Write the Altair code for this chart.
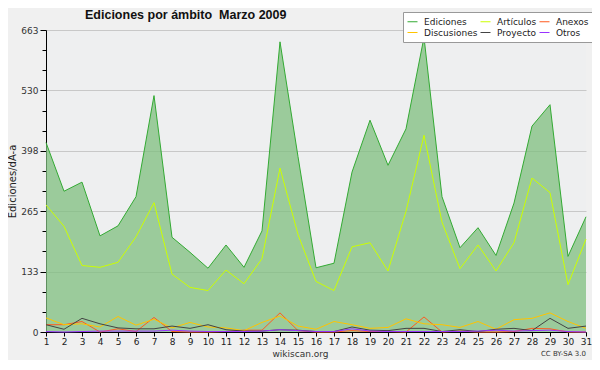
import altair as alt
import pandas as pd

# ---- data ----
days = list(range(1, 32))
ediciones = [416, 309, 329, 211, 233, 297, 519, 208, 175, 140, 191, 142, 222, 637, 385, 141,
             151, 351, 465, 366, 446, 647, 297, 185, 229, 168, 283, 452, 499, 166, 253]
articulos = [279, 232, 146, 142, 153, 209, 284, 127, 98, 91, 136, 106, 161, 360, 214, 111,
             91, 187, 196, 134, 265, 432, 241, 139, 191, 134, 196, 338, 306, 104, 204]
anexos = [16, 16, 23, 0, 7, 1, 32, 1, 0, 0, 1, 4, 4, 42, 3, 0,
          0, 3, 1, 1, 0, 33, 0, 2, 0, 0, 1, 8, 7, 0, 0]
discusiones = [31, 16, 18, 11, 34, 15, 28, 9, 21, 11, 9, 3, 21, 35, 13, 6,
               23, 16, 8, 10, 29, 18, 16, 10, 23, 6, 27, 30, 42, 23, 8]
proyecto = [16, 6, 30, 18, 9, 7, 7, 13, 8, 16, 5, 2, 2, 5, 4, 1,
            1, 11, 4, 3, 8, 8, 1, 5, 1, 6, 8, 3, 30, 8, 13]
otros = [1, 0, 1, 2, 2, 2, 2, 4, 2, 1, 1, 1, 2, 5, 3, 1,
         1, 7, 2, 1, 1, 1, 1, 1, 2, 4, 2, 3, 4, 1, 0]

series_names = ["Ediciones", "Artículos", "Anexos", "Discusiones", "Proyecto", "Otros"]
series_colors = ["#33aa33", "#ccff00", "#ff5a1f", "#ffc400", "#444444", "#9933ff"]
series_values = [ediciones, articulos, anexos, discusiones, proyecto, otros]
# legend fills column by column: order so that rows read as in the reference
legend_order = ["Ediciones", "Discusiones", "Artículos", "Proyecto", "Anexos", "Otros"]

title_text = "Ediciones por ámbito\u00a0 Marzo 2009"
y_title = "Ediciones/dÃ-a"
x_title = "wikiscan.org"
license_text = ["CC BY-SA 3.0"]
y_max = 663
y_major = [0, 132.6, 265.2, 397.8, 530.4, 663]
y_minor = [y_max * k / 15 for k in range(16) if k % 3 != 0]

# ---- tables ----
df_ed = pd.DataFrame({"dia": days, "valor": ediciones})
rows = []
for name, vals in zip(series_names, series_values):
    for d, v in zip(days, vals):
        rows.append({"dia": d, "valor": v, "serie": name})
df_long = pd.DataFrame(rows)
df_lic = pd.DataFrame({"t": license_text})

color_of = dict(zip(series_names, series_colors))

W, H = 540, 302

xscale = alt.Scale(domain=[1, 31], nice=False, zero=False)
yscale = alt.Scale(domain=[0, y_max], nice=False, zero=True)

xaxis = alt.Axis(values=days, format="d", labelFontSize=9, labelColor="#222",
                 labelFont="DejaVu Sans", tickSize=4, tickColor="#000",
                 domainColor="#000", grid=False, labelOverlap=False, labelFlush=False,
                 labelPadding=1,
                 title=x_title, titleX=254, titleY=24, titleAlign="center",
                 titleBaseline="alphabetic", titleFontSize=9, titleFontWeight="normal",
                 titleFont="DejaVu Sans", titleColor="#333")

ymajor = alt.Axis(orient="left", offset=0, values=y_major, labelExpr="round(datum.value)",
                  labelFontSize=9, labelColor="#333", labelFont="DejaVu Sans",
                  tickSize=6, tickColor="#000", domainColor="#000",
                  grid=True, gridColor="#c8c8c8", labelPadding=2,
                  title=y_title, titleFont="DejaVu Sans", titleFontSize=10,
                  titleFontWeight="normal", titleColor="#222",
                  titleX=-34, titleY=H / 2, titleBaseline="middle", titleAngle=270)

yminor = alt.Axis(orient="left", offset=0, values=y_minor, labels=False, domain=False,
                  grid=False, tickSize=4, tickColor="#000", title=None)

area = alt.Chart(df_ed).mark_area(color="#7fbf7f", opacity=0.75).encode(
    x=alt.X("dia:Q", scale=xscale, axis=xaxis),
    y=alt.Y("valor:Q", scale=yscale, axis=ymajor),
)

lines = alt.Chart(df_long).mark_line(strokeWidth=1).encode(
    x=alt.X("dia:Q", scale=xscale, axis=xaxis),
    y=alt.Y("valor:Q", scale=yscale, axis=yminor),
    color=alt.Color(
        "serie:N",
        scale=alt.Scale(domain=legend_order, range=[color_of[n] for n in legend_order]),
        legend=alt.Legend(title=None, orient="none", legendX=357, legendY=-18,
                          columns=3, fillColor="white", strokeColor="#999999",
                          padding=4, symbolType="stroke", symbolSize=100,
                          symbolStrokeWidth=1, labelFontSize=9, labelFont="DejaVu Sans",
                          labelColor="#222", labelOffset=6, columnPadding=0,
                          rowPadding=0),
    ),
)

lic = alt.Chart(df_lic).mark_text(align="right", baseline="alphabetic", fontSize=7,
                                   font="DejaVu Sans", color="#333").encode(
    x=alt.value(W), y=alt.value(H + 24), text="t:N")

chart = alt.layer(area, lines, lic).resolve_axis(y="independent").properties(
    width=W, height=H,
    autosize=alt.AutoSizeParams(type="none"),
    padding={"left": 38, "top": 22, "right": 6, "bottom": 28},
    background="#f0f0f0",
    title=alt.TitleParams(text=title_text, anchor="start", frame="group", dx=39, dy=18,
                          font="Liberation Sans", fontSize=12.5, fontWeight="bold",
                          color="#111", offset=8),
).configure_view(fill="#eeeff0", stroke=None)

chart.save("out.html", embed_options={"renderer": "svg", "actions": False})
